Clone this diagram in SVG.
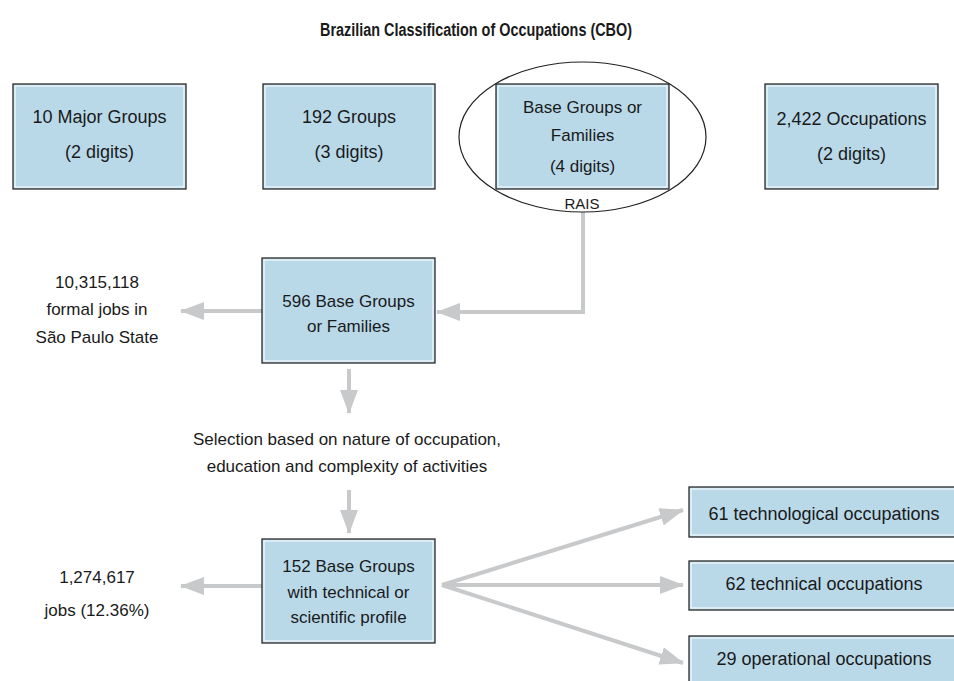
<svg xmlns="http://www.w3.org/2000/svg" width="954" height="681" viewBox="0 0 954 681">
  <defs>
    <style>
      text { font-family: "Liberation Sans", Arial, sans-serif; fill: #1a1a1a; text-anchor: middle; }
      .title { font-weight: bold; font-size: 18px; }
      .big { font-size: 18px; }
      .mid { font-size: 17px; }
      .small { font-size: 15px; }
      .box { fill: #b9d9e9; stroke: #2a2a2a; stroke-width: 1.3; }
      .inner { fill: none; stroke: #ffffff; stroke-width: 1; }
      .conn { fill: none; stroke: #c8c9cb; stroke-width: 4; marker-end: url(#head); }
    </style>
    <marker id="head" markerUnits="userSpaceOnUse" markerWidth="24" markerHeight="18" viewBox="0 0 24 18" refX="23" refY="9" orient="auto">
      <path d="M0,0 L24,9 L0,18 Z" fill="#c8c9cb"/>
    </marker>
  </defs>
  <rect width="954" height="681" fill="#ffffff"/>

  <text class="title" x="476" y="36" textLength="312" lengthAdjust="spacingAndGlyphs">Brazilian Classification of Occupations (CBO)</text>

  <g id="connectors">
    <path class="conn" d="M583,212 V312 H437"/>
    <path class="conn" d="M262,311 H181"/>
    <path class="conn" d="M349,369 V413"/>
    <path class="conn" d="M349,490 V533"/>
    <path class="conn" d="M262,586 H181"/>
    <path class="conn" d="M442,585 L683,510"/>
    <path class="conn" d="M442,585 L683,585"/>
    <path class="conn" d="M442,585 L683,663"/>
  </g>

  <g id="major-groups">
    <rect class="box" x="13" y="84" width="173" height="105"/>
    <rect class="inner" x="15" y="86" width="169" height="101"/>
    <text class="big" x="99.5" y="123">10 Major Groups</text>
    <text class="big" x="99.5" y="158">(2 digits)</text>
  </g>

  <g id="groups">
    <rect class="box" x="263" y="84" width="172" height="105"/>
    <rect class="inner" x="265" y="86" width="168" height="101"/>
    <text class="big" x="349" y="123">192 Groups</text>
    <text class="big" x="349" y="158">(3 digits)</text>
  </g>

  <g id="base-groups">
    <rect class="box" x="496" y="84" width="173" height="105"/>
    <rect class="inner" x="498" y="86" width="169" height="101"/>
    <text class="mid" x="582.5" y="113">Base Groups or</text>
    <text class="mid" x="582.5" y="141">Families</text>
    <text class="mid" x="582.5" y="172">(4 digits)</text>
    <ellipse cx="582.5" cy="137" rx="123.5" ry="75" fill="none" stroke="#222222" stroke-width="1.2"/>
    <text class="small" x="582" y="209">RAIS</text>
  </g>

  <g id="occupations">
    <rect class="box" x="765" y="84" width="173" height="105"/>
    <rect class="inner" x="767" y="86" width="169" height="101"/>
    <text class="big" x="851.5" y="125">2,422 Occupations</text>
    <text class="big" x="851.5" y="160">(2 digits)</text>
  </g>

  <g id="base-596">
    <rect class="box" x="262" y="258" width="173" height="105"/>
    <rect class="inner" x="264" y="260" width="169" height="101"/>
    <text class="mid" x="348.5" y="307">596 Base Groups</text>
    <text class="mid" x="348.5" y="332">or Families</text>
  </g>

  <g id="formal-jobs">
    <text class="mid" x="97" y="288">10,315,118</text>
    <text class="mid" x="97" y="315">formal jobs in</text>
    <text class="mid" x="97" y="343">São Paulo State</text>
  </g>

  <g id="selection">
    <text class="mid" x="347" y="445">Selection based on nature of occupation,</text>
    <text class="mid" x="347" y="472">education and complexity of activities</text>
  </g>

  <g id="base-152">
    <rect class="box" x="262" y="539" width="173" height="104"/>
    <rect class="inner" x="264" y="541" width="169" height="100"/>
    <text class="mid" x="348.5" y="572">152 Base Groups</text>
    <text class="mid" x="348.5" y="598">with technical or</text>
    <text class="mid" x="348.5" y="623">scientific profile</text>
  </g>

  <g id="jobs-share">
    <text class="mid" x="97" y="583">1,274,617</text>
    <text class="mid" x="97" y="616">jobs (12.36%)</text>
  </g>

  <g id="technological">
    <rect class="box" x="689" y="487" width="280" height="50"/>
    <rect class="inner" x="691" y="489" width="280" height="46"/>
    <text class="big" x="824" y="520">61 technological occupations</text>
  </g>

  <g id="technical">
    <rect class="box" x="689" y="561" width="280" height="49"/>
    <rect class="inner" x="691" y="563" width="280" height="45"/>
    <text class="big" x="824" y="590">62 technical occupations</text>
  </g>

  <g id="operational">
    <rect class="box" x="689" y="636" width="280" height="60"/>
    <rect class="inner" x="691" y="638" width="280" height="56"/>
    <text class="big" x="824" y="665">29 operational occupations</text>
  </g>
</svg>
